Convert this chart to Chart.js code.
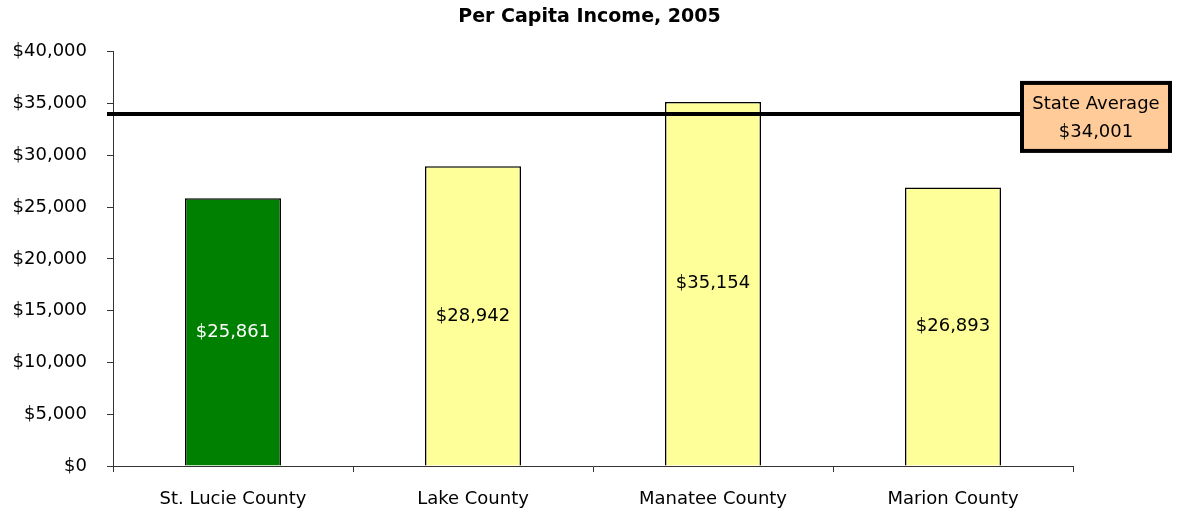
<!DOCTYPE html>
<html lang="en">
<head>
  <meta charset="UTF-8">
  <title>Per Capita Income, 2005</title>
  <script src="https://cdn.jsdelivr.net/npm/chart.js"></script>
  <style>
    html, body { margin: 0; padding: 0; background: #fff; }
    #wrap { width: 1179px; height: 514px; }
  </style>
</head>
<body>
  <div id="wrap"><canvas id="incomeChart"></canvas></div>
  <script>
    const counties = ["St. Lucie County", "Lake County", "Manatee County", "Marion County"];
    const income = [25861, 28942, 35154, 26893];
    const barColors = ["#008000", "#FFFF99", "#FFFF99", "#FFFF99"];
    const labelColors = ["#ffffff", "#000000", "#000000", "#000000"];
    const stateAverage = 34001;
    const yTicks = [0, 5000, 10000, 15000, 20000, 25000, 30000, 35000, 40000];

    const FONT = "'DejaVu Sans', Verdana, sans-serif";
    const money = v => '$' + v.toLocaleString('en-US');

    // value labels inside bars + state average line and box
    const extras = {
      id: 'extras',
      afterDatasetsDraw(chart) {
        const ctx = chart.ctx;
        const area = chart.chartArea;
        const y = chart.scales.y;
        const meta = chart.getDatasetMeta(0);

        ctx.save();
        ctx.font = '18px ' + FONT;
        ctx.textAlign = 'center';
        ctx.textBaseline = 'middle';
        meta.data.forEach((bar, i) => {
          ctx.fillStyle = labelColors[i];
          ctx.fillText(money(income[i]), bar.x, (bar.y + bar.base) / 2);
        });

        const lineY = y.getPixelForValue(stateAverage);
        const boxLeft = area.right - 51;
        const boxW = 148, boxH = 68;
        const boxTop = lineY + 3 - boxH / 2;

        ctx.beginPath();
        ctx.strokeStyle = '#000';
        ctx.lineWidth = 4;
        ctx.moveTo(area.left - 6, lineY);
        ctx.lineTo(boxLeft, lineY);
        ctx.stroke();

        ctx.fillStyle = '#FFCC99';
        ctx.fillRect(boxLeft, boxTop, boxW, boxH);
        ctx.lineWidth = 4;
        ctx.strokeRect(boxLeft, boxTop, boxW, boxH);

        ctx.fillStyle = '#000';
        ctx.fillText('State Average', boxLeft + boxW / 2, boxTop + 21);
        ctx.fillText(money(stateAverage), boxLeft + boxW / 2, boxTop + 49);
        ctx.restore();
      }
    };

    new Chart(document.getElementById('incomeChart'), {
      type: 'bar',
      data: {
        labels: counties,
        datasets: [{
          data: income,
          yAxisID: 'y',
          backgroundColor: barColors,
          borderColor: '#000',
          borderWidth: 1.5,
          barPercentage: 0.4,
          categoryPercentage: 1.0
        }]
      },
      options: {
        responsive: true,
        maintainAspectRatio: false,
        animation: false,
        layout: { padding: 0 },
        plugins: {
          legend: { display: false },
          tooltip: { enabled: false },
          title: {
            display: true,
            text: 'Per Capita Income, 2005',
            color: '#000',
            font: { family: FONT, size: 19, weight: 'bold', lineHeight: 1.2 },
            padding: { top: 6, bottom: 23 }
          }
        },
        scales: {
          x: {
            grid: { display: true, drawOnChartArea: false, offset: true, tickLength: 6, color: '#333' },
            border: { color: '#333', width: 1 },
            ticks: { color: '#000', font: { family: FONT, size: 18 }, padding: 17 },
            afterFit(scale) { scale.height = 48; }
          },
          y: {
            min: 0,
            max: 40000,
            afterBuildTicks(scale) { scale.ticks = yTicks.map(v => ({ value: v })); },
            grid: { display: true, drawOnChartArea: false, tickLength: 6, color: '#333' },
            border: { color: '#333', width: 1 },
            ticks: {
              color: '#000',
              font: { family: FONT, size: 18 },
              padding: 20,
              callback: v => money(v)
            },
            afterFit(scale) { scale.width = 113; }
          },
          // empty right-hand space for the State Average box
          yRight: {
            position: 'right',
            grid: { display: false },
            border: { display: false },
            ticks: { display: false },
            afterFit(scale) { scale.width = 106; }
          }
        }
      },
      plugins: [extras]
    });
  </script>
</body>
</html>
